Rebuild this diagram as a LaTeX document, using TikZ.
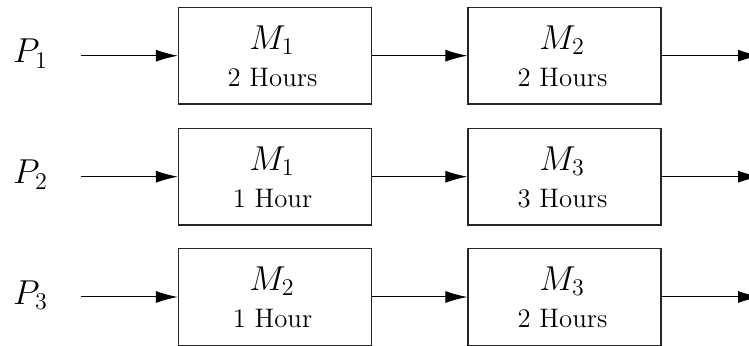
\documentclass[tikz,border=0pt]{standalone}
\usetikzlibrary{arrows.meta}
\begin{document}
\begin{tikzpicture}[x=0.5pt,y=-0.5pt,
  box/.style={draw, black!85, line width=0.65pt, minimum width=96.5pt, minimum height=48.4pt, inner sep=0pt},
  arr/.style={-{Latex[length=11pt,width=6pt]}, line width=0.5pt},
  mlab/.style={anchor=base, inner sep=0pt, font=\fontsize{18}{21}\selectfont},
  hlab/.style={anchor=base, inner sep=0pt, font=\fontsize{13.4}{16}\selectfont},
  plab/.style={anchor=base, inner sep=0pt, font=\fontsize{18.5}{21}\selectfont}]
\useasboundingbox (0,0) rectangle (749,346);
\clip (0,0) rectangle (749,346);

% Row 1
\node[plab] (p1) at (30.5,63) {$P_1$};
\coordinate (s1) at (81,55.7);
\coordinate (e1) at (760,55.7);
\node[box] (b11) at (275,55.7) {};
\node[box] (b12) at (564.5,55.7) {};
\node[mlab] (m11) at (272,49.3) {$M_1$};
\node[hlab] (h11) at (272.5,86.7) {2 Hours};
\node[mlab] (m12) at (562,49.3) {$M_2$};
\node[hlab] (h12) at (562.5,86.7) {2 Hours};
\draw[arr] (s1) -- (b11.west);
\draw[arr] (b11.east) -- (b12.west);
\draw[arr] (b12.east) -- (e1);

% Row 2
\node[plab] (p2) at (30.5,184) {$P_2$};
\coordinate (s2) at (81,176.7);
\coordinate (e2) at (760,176.7);
\node[box] (b21) at (275,176.7) {};
\node[box] (b22) at (564.5,176.7) {};
\node[mlab] (m21) at (272,170.3) {$M_1$};
\node[hlab] (h21) at (272.5,207.7) {1 Hour};
\node[mlab] (m22) at (562,170.3) {$M_3$};
\node[hlab] (h22) at (562.5,207.7) {3 Hours};
\draw[arr] (s2) -- (b21.west);
\draw[arr] (b21.east) -- (b22.west);
\draw[arr] (b22.east) -- (e2);

% Row 3
\node[plab] (p3) at (30.5,304.3) {$P_3$};
\coordinate (s3) at (81,297);
\coordinate (e3) at (760,297);
\node[box] (b31) at (275,297) {};
\node[box] (b32) at (564.5,297) {};
\node[mlab] (m31) at (272,290.6) {$M_2$};
\node[hlab] (h31) at (272.5,328) {1 Hour};
\node[mlab] (m32) at (562,290.6) {$M_3$};
\node[hlab] (h32) at (562.5,328) {2 Hours};
\draw[arr] (s3) -- (b31.west);
\draw[arr] (b31.east) -- (b32.west);
\draw[arr] (b32.east) -- (e3);
\end{tikzpicture}
\end{document}
